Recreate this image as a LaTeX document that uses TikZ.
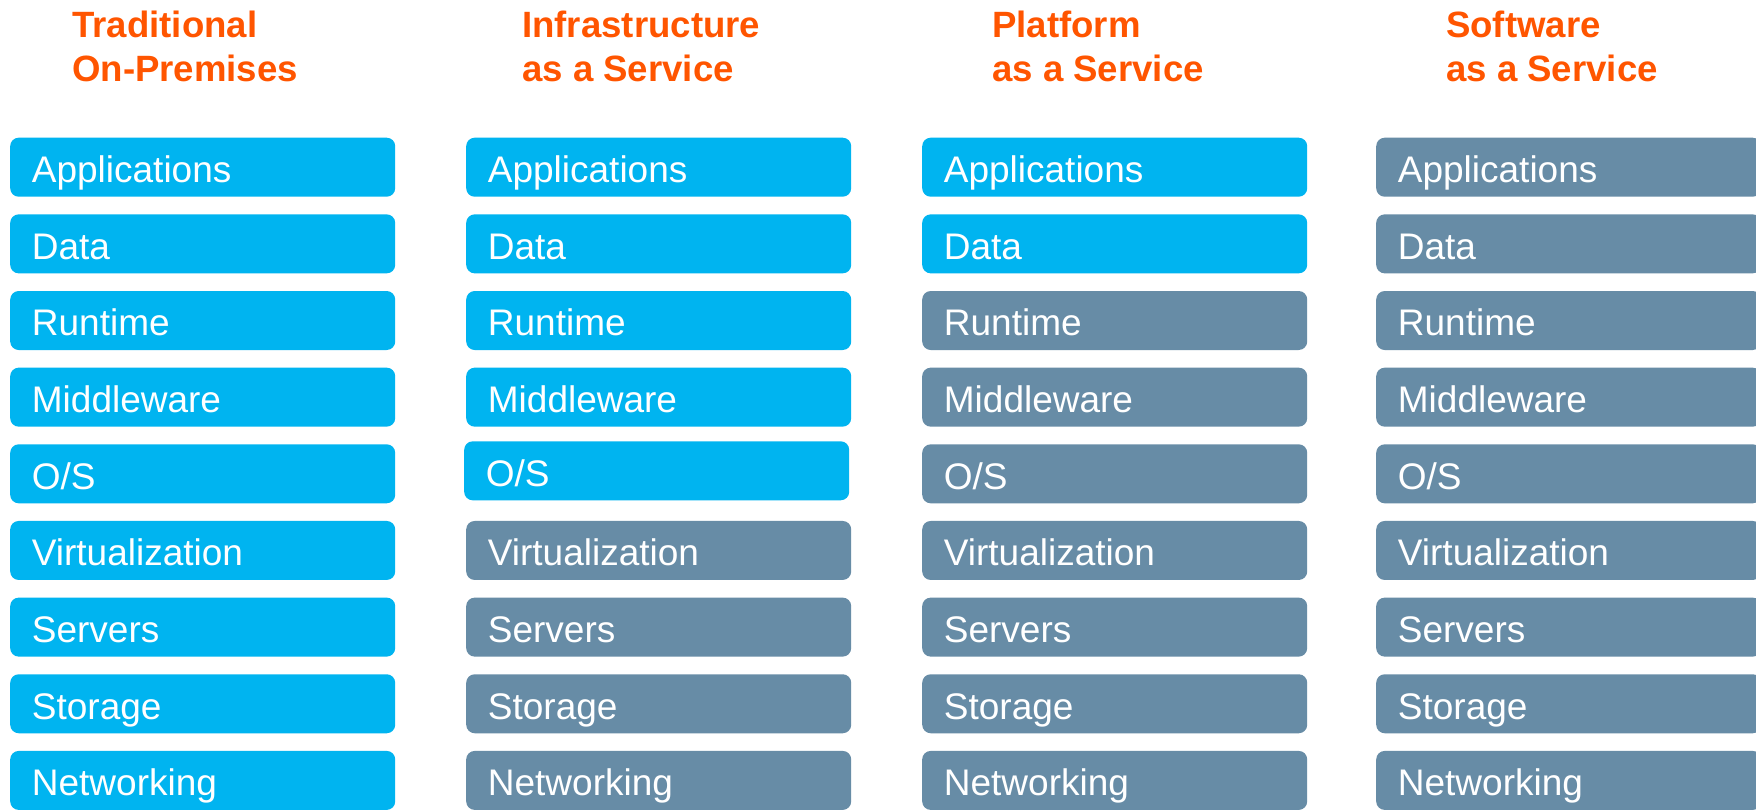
\documentclass[tikz,border=0pt]{standalone}
\usepackage{fontspec}
\setmainfont{Liberation Sans}
\definecolor{tileblue}{RGB}{0,180,240}
\definecolor{tilegray}{RGB}{103,140,166}
\definecolor{titleorange}{RGB}{255,85,0}
\begin{document}
\begin{tikzpicture}[x=1pt,y=-1pt,
  tile/.style={rounded corners=8.5pt, minimum width=385pt, minimum height=59pt,
    inner xsep=21.7pt, inner ysep=0pt, text width=341.6pt, align=left,
    anchor=north west, text=white, font=\fontsize{37}{44}\selectfont,
    text height=30.5pt, text depth=0pt},
  coltitle/.style={anchor=base west, inner sep=0pt, text=titleorange,
    font=\bfseries\fontsize{36.6}{44}\selectfont}]
\useasboundingbox (0,0) rectangle (1756,809);
\clip (0,0) rectangle (1756,809);
\fill[white] (0,0) rectangle (1756,809);
\foreach \col/\cx/\nb in {1/10/9, 2/466/5, 3/922/2, 4/1376/0} {
  \foreach \lab [count=\r from 0] in {Applications,Data,Runtime,Middleware,O/S,Virtualization,Servers,Storage,Networking} {
    \pgfmathsetmacro\ty{137.5+76.65*\r}
    \pgfmathsetmacro\dx{(\col==2 && \r==4) ? -2 : 0}
    \pgfmathsetmacro\dy{(\col==2 && \r==4) ? -3 : 0}
    \ifnum\r<\nb \def\fc{tileblue}\else\def\fc{tilegray}\fi
    \node[tile, fill=\fc] (c\col r\r) at ({\cx+\dx},{\ty+\dy}) {\lab};
  }
}
\node[coltitle] (t1a) at (72,37.8) {Traditional};
\node[coltitle] (t1b) at (72,81.5) {On-Premises};
\node[coltitle] (t2a) at (522,37.8) {Infrastructure};
\node[coltitle] (t2b) at (522,81.5) {as a Service};
\node[coltitle] (t3a) at (992,37.8) {Platform};
\node[coltitle] (t3b) at (992,81.5) {as a Service};
\node[coltitle] (t4a) at (1446,37.8) {Software};
\node[coltitle] (t4b) at (1446,81.5) {as a Service};
\end{tikzpicture}
\end{document}
